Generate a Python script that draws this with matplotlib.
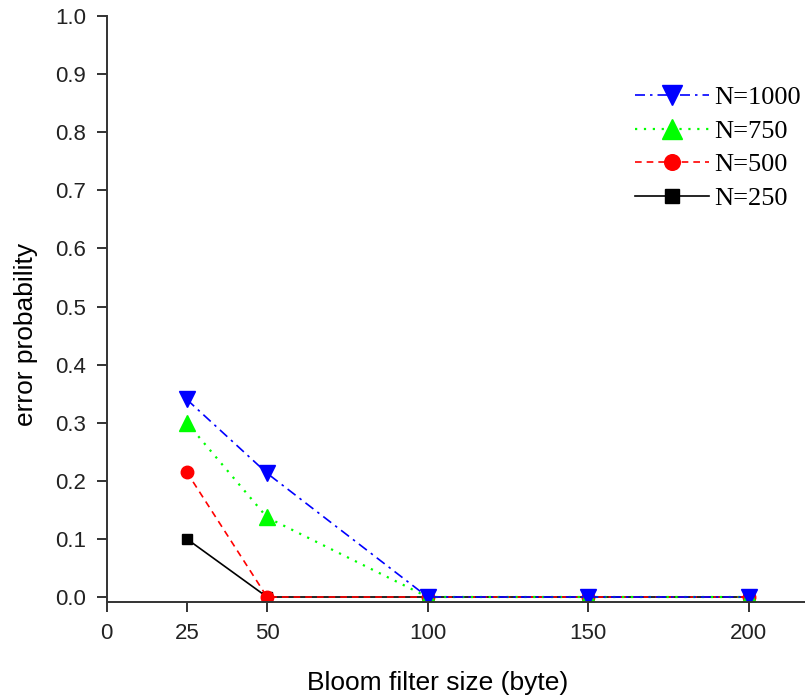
import matplotlib
matplotlib.use("Agg")
import matplotlib.pyplot as plt

# bloom filter size in bytes
sizes = [25, 50, 100, 150, 200]

# error probability per number of elements N
err_250 = [0.10, 0.0, 0.0, 0.0, 0.0]
err_500 = [0.215, 0.0, 0.0, 0.0, 0.0]
err_750 = [0.30, 0.137, 0.0, 0.0, 0.0]
err_1000 = [0.34, 0.213, 0.0, 0.0, 0.0]

xticks = [0, 25, 50, 100, 150, 200]
yticks = [0.0, 0.1, 0.2, 0.3, 0.4, 0.5, 0.6, 0.7, 0.8, 0.9, 1.0]

plt.rcParams['font.family'] = ['Liberation Sans', 'DejaVu Sans']

fig = plt.figure(figsize=(8.05, 6.97), dpi=100)
ax = fig.add_axes([106.5 / 805, 1 - 602 / 697, 1 - 106.5 / 805, (602 - 16) / 697])

l250, = ax.plot(sizes, err_250, color='black', linestyle='-', linewidth=1.2,
                marker='s', markersize=7.5, label='N=250')
l500, = ax.plot(sizes, err_500, color='red', linestyle=(0, (4, 3)), linewidth=1.2,
                marker='o', markersize=9, label='N=500')
l750, = ax.plot(sizes, err_750, color='#00ff00', linestyle=(0, (1, 3)), linewidth=1.6,
                marker='^', markersize=11, label='N=750')
l1000, = ax.plot(sizes, err_1000, color='blue', linestyle=(0, (6, 3, 1.5, 3)), linewidth=1.2,
                 marker='v', markersize=11, label='N=1000')

ax.set_xlim(0, 217.5)
ax.set_ylim(-0.0086, 1.0)
ax.set_xticks(xticks)
ax.set_yticks(yticks)
ax.set_yticklabels(['%.1f' % v for v in yticks])

for side in ['top', 'right']:
    ax.spines[side].set_visible(False)
for side in ['left', 'bottom']:
    ax.spines[side].set_linewidth(1.4)
    ax.spines[side].set_color('#333333')
ax.tick_params(axis='both', length=7.5, width=1.4, color='#333333',
               labelsize=16, labelcolor='#222222')
ax.tick_params(axis='x', pad=7.5)
ax.tick_params(axis='y', pad=7)

ax.set_xlabel('Bloom filter size (byte)', fontsize=19)
ax.set_ylabel('error probability', fontsize=19)
ax.xaxis.set_label_coords(0.4746, -0.118)
ax.yaxis.set_label_coords(-0.098, 0.457)

leg = ax.legend([l1000, l750, l500, l250], ['N=1000', 'N=750', 'N=500', 'N=250'],
                loc='upper left', bbox_to_anchor=(635 / 805, 1 - 86 / 697),
                bbox_transform=fig.transFigure, frameon=False, borderpad=0,
                borderaxespad=0, handlelength=2.8, handletextpad=0.22,
                labelspacing=0.38, markerscale=1.25,
                prop={'family': 'Liberation Serif', 'size': 19})

fig.savefig('out.png', dpi=100)
